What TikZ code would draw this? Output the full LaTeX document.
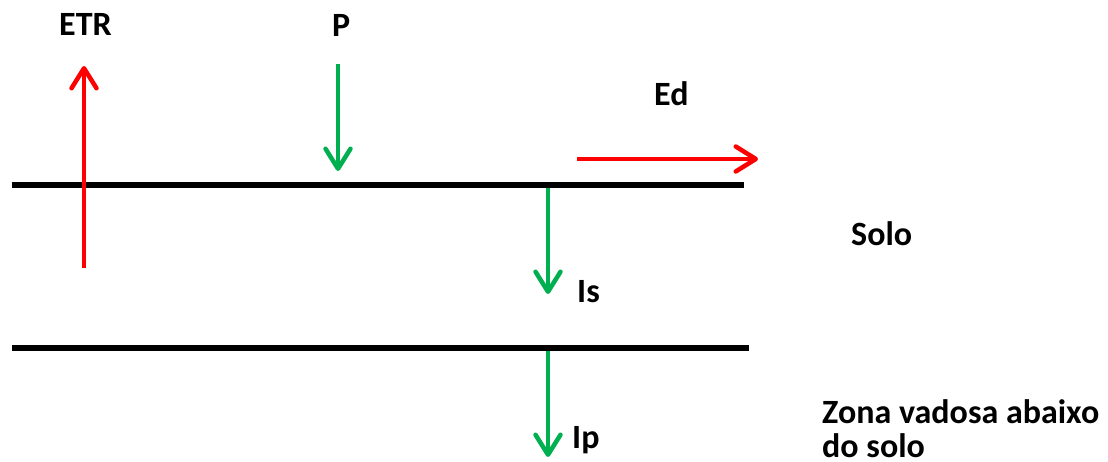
\documentclass[tikz,border=0pt]{standalone}
\usepackage{fontspec}
\setmainfont{Carlito}
\usetikzlibrary{arrows.meta}
\definecolor{flred}{RGB}{255,0,0}
\definecolor{flgreen}{RGB}{0,176,80}
\begin{document}
\begin{tikzpicture}[x=1pt,y=-1pt,
  lbl/.style={anchor=base west,inner sep=0pt,font=\fontsize{34pt}{34pt}\selectfont\bfseries,align=left},
  layer/.style={line width=6pt,black},
  flux/.style={line width=4.5pt,-{Straight Barb[length=20pt,width=25pt,line cap=round,line join=round]}},
  redflux/.style={flux,flred},
  greenflux/.style={flux,flgreen}]
\useasboundingbox (0,0) rectangle (1108,462);
% layers
\coordinate (s1a) at (12,185);
\coordinate (s1b) at (744,185);
\coordinate (s2a) at (12,348);
\coordinate (s2b) at (749,348);
\draw[layer] (s1a) -- (s1b);
\draw[layer] (s2a) -- (s2b);
% labels
\node[lbl] (etr) at (59,36) {ETR};
\node[lbl] (p) at (332,37) {P};
\node[lbl] (ed) at (654,106) {Ed};
\node[lbl] (solo) at (851,246) {Solo};
\node[lbl] (is) at (577,302) {Is};
\node[lbl] (ip) at (572,448) {Ip};
\node[lbl,anchor=north west] (zona) at (822,399) {Zona vadosa abaixo\\do solo};
% arrows
\coordinate (etrS) at (84,268);
\coordinate (etrE) at (84,66);
\coordinate (pS) at (338,64);
\coordinate (pE) at (338,171);
\coordinate (edS) at (577,159);
\coordinate (edE) at (758,159);
\coordinate (isS) at (548,188);
\coordinate (isE) at (548,294);
\coordinate (ipS) at (548,351);
\coordinate (ipE) at (548,457);
\draw[redflux] (etrS) -- (etrE);
\draw[greenflux] (pS) -- (pE);
\draw[redflux] (edS) -- (edE);
\draw[greenflux] (isS) -- (isE);
\draw[greenflux] (ipS) -- (ipE);
\end{tikzpicture}
\end{document}
